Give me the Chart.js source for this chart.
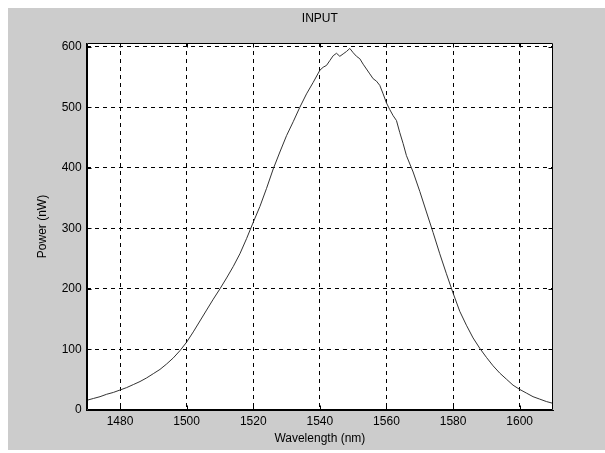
<!DOCTYPE html>
<html>
<head>
<meta charset="utf-8">
<script src="https://cdn.jsdelivr.net/npm/chart.js@4/dist/chart.umd.min.js"></script>
<style>
  html, body { margin: 0; padding: 0; background: #ffffff; }
  #wrap { width: 605px; height: 453px; position: relative; }
</style>
</head>
<body>
<div id="wrap"><canvas id="c" width="605" height="453"></canvas></div>
<script>
// ---- data ----
const chartTitle = "INPUT";
const xTitle = "Wavelength (nm)";
const yTitle = "Power (nW)";
const xTicks = [1480, 1500, 1520, 1540, 1560, 1580, 1600];
const yTicks = [0, 100, 200, 300, 400, 500, 600];
const xRange = [1470, 1610];
const yRange = [0, 606];

const wavelengths = [
  1470, 1472, 1474, 1476, 1478, 1480, 1482, 1484, 1486, 1488,
  1490, 1492, 1494, 1496, 1498, 1500, 1502, 1504, 1506, 1508,
  1510, 1512, 1514, 1516, 1518, 1520, 1522, 1524, 1526, 1528,
  1530, 1532, 1534, 1536, 1538,
  1540, 1541, 1542, 1543, 1544, 1545, 1546, 1547, 1548, 1549,
  1550, 1551, 1552, 1553, 1554, 1555, 1556, 1557, 1558, 1559,
  1560, 1561, 1562, 1563, 1564, 1565, 1566,
  1568, 1570, 1572, 1574, 1576, 1578, 1580, 1582, 1584, 1586,
  1588, 1590, 1592, 1594, 1596, 1598, 1600, 1602, 1604, 1606,
  1608, 1610
];
const power = [
  16, 19, 22, 26, 29, 33, 37, 42, 47, 53,
  60, 67, 76, 86, 98, 112, 129, 147, 165, 183,
  200, 218, 237, 258, 283, 310, 336, 366, 398, 426,
  453, 476, 500, 522, 541,
  561, 566, 569, 577, 585, 589, 584, 588, 592, 597,
  590, 584, 580, 571, 563, 555, 547, 543, 536, 522,
  507, 496, 486, 478, 458, 440, 420,
  393, 361, 327, 293, 258, 225, 193, 163, 140, 119,
  102, 87, 73, 61, 51, 41, 34, 28, 22, 18,
  14, 11
];

const points = wavelengths.map((w, i) => ({ x: w, y: power[i] }));

const FONT = { family: "'Liberation Sans', Arial, sans-serif", size: 12, weight: 'normal' };

// figure background + box + inside ticks (MATLAB style)
const figurePlugin = {
  id: 'figure',
  afterLayout(chart) {
    // centre the title over the plotting area, as MATLAB does
    if (chart.titleBlock) {
      chart.titleBlock.left = chart.chartArea.left;
      chart.titleBlock.right = chart.chartArea.right;
    }
  },
  beforeDraw(chart) {
    const ctx = chart.ctx;
    ctx.save();
    ctx.fillStyle = '#ffffff';
    ctx.fillRect(0, 0, chart.width, chart.height);
    ctx.fillStyle = '#cccccc';
    ctx.fillRect(8, 8, chart.width - 8, chart.height - 11);
    const a = chart.chartArea;
    ctx.fillStyle = '#ffffff';
    ctx.fillRect(a.left, a.top, a.right - a.left, a.bottom - a.top);
    ctx.restore();
  },
  afterDraw(chart) {
    const ctx = chart.ctx;
    const a = chart.chartArea;
    const xs = chart.scales.x, ys = chart.scales.y;
    ctx.save();
    ctx.strokeStyle = '#000000';
    ctx.lineWidth = 1;
    ctx.setLineDash([]);
    const L = Math.round(a.left) + 0.5, R = Math.round(a.right) - 0.5;
    const T = Math.round(a.top) + 0.5, B = Math.round(a.bottom) - 0.5;
    ctx.beginPath();
    ctx.rect(L, T, R - L, B - T);
    ctx.stroke();
    const tl = 4;
    ctx.beginPath();
    xTicks.forEach(v => {
      const px = Math.round(xs.getPixelForValue(v)) + 0.5;
      ctx.moveTo(px, B); ctx.lineTo(px, B - tl);
      ctx.moveTo(px, T); ctx.lineTo(px, T + tl);
    });
    yTicks.forEach(v => {
      const py = Math.round(ys.getPixelForValue(v)) + 0.5;
      ctx.moveTo(L, py); ctx.lineTo(L + tl, py);
      ctx.moveTo(R, py); ctx.lineTo(R - tl, py);
    });
    ctx.stroke();
    ctx.restore();
  }
};

new Chart(document.getElementById('c'), {
  type: 'line',
  data: {
    datasets: [{
      data: points,
      borderColor: '#333333',
      borderWidth: 1,
      pointRadius: 0,
      fill: false,
      tension: 0
    }]
  },
  options: {
    responsive: false,
    animation: false,
    devicePixelRatio: 1,
    layout: { padding: { left: 8, right: 52, top: 8, bottom: 3 } },
    plugins: {
      legend: { display: false },
      tooltip: { enabled: false },
      title: {
        display: true,
        text: chartTitle,
        color: '#000000',
        font: FONT,
        padding: { top: 3, bottom: 17.6 }
      }
    },
    scales: {
      x: {
        type: 'linear',
        min: xRange[0],
        max: xRange[1],
        afterBuildTicks: s => { s.ticks = xTicks.map(v => ({ value: v })); },
        afterFit: s => { s.height = 40; },
        grid: { color: '#000000', lineWidth: 1, drawTicks: false },
        border: { display: true, color: '#000000', width: 1, dash: [4, 4] },
        ticks: { color: '#000000', font: FONT, padding: 4, maxRotation: 0, callback: v => String(v) },
        title: { display: true, text: xTitle, color: '#000000', font: FONT, padding: { top: 0, bottom: 3.8 } }
      },
      y: {
        type: 'linear',
        min: yRange[0],
        max: yRange[1],
        afterBuildTicks: s => { s.ticks = yTicks.map(v => ({ value: v })); },
        afterFit: s => { s.width = 78.7; },
        grid: { color: '#000000', lineWidth: 1, drawTicks: false },
        border: { display: true, color: '#000000', width: 1, dash: [4, 4] },
        ticks: { color: '#000000', font: FONT, padding: 5, callback: v => String(v) },
        title: { display: true, text: yTitle, color: '#000000', font: FONT, padding: { top: 27.8, bottom: 0 } }
      }
    }
  },
  plugins: [figurePlugin]
});
</script>
</body>
</html>
